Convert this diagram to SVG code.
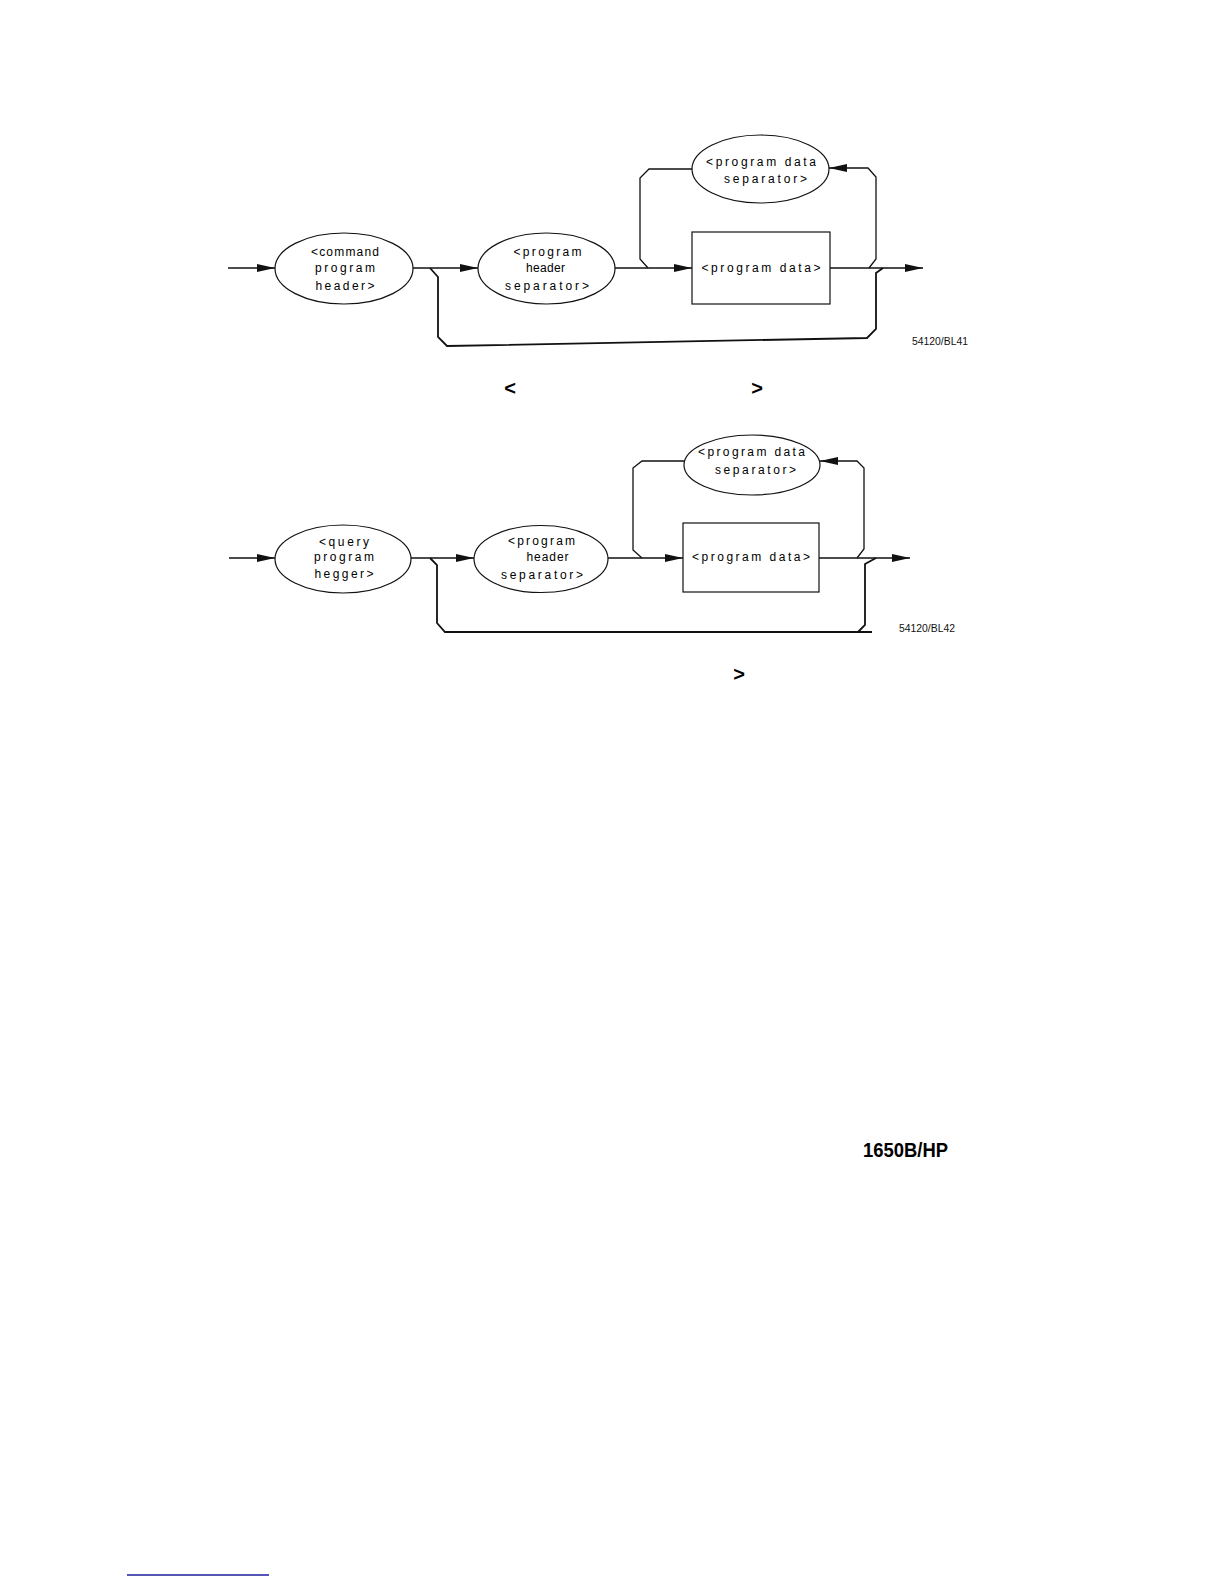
<svg xmlns="http://www.w3.org/2000/svg" width="1224" height="1584" viewBox="0 0 1224 1584">
<style>
.bg{fill:#fff}
.node{fill:#fff;stroke:#111;stroke-width:1.2}
.lbl{font-family:"Liberation Sans","DejaVu Sans",sans-serif;font-size:12px;fill:#000;text-anchor:middle}
.fig{font-family:"Liberation Sans","DejaVu Sans",sans-serif;font-size:10.5px;fill:#111}
.conn{fill:none;stroke:#111;stroke-width:1.3}
.byp{fill:none;stroke:#111;stroke-width:1.8}
.bold{font-family:"Liberation Sans",Arial,sans-serif;font-weight:bold;fill:#000}
</style>
<defs>
<marker id="arr" markerUnits="userSpaceOnUse" markerWidth="18" markerHeight="8" refX="18" refY="4" orient="auto">
<path d="M0,0 L18,4 L0,8 z" fill="#111"/>
</marker>
</defs>
<rect class="bg" x="0" y="0" width="1224" height="1584"/>

<!-- Diagram 1 -->
<g id="connectors1">
<path class="conn" d="M228,268 L275,268" marker-end="url(#arr)"/>
<path class="conn" d="M413,268 L478,268" marker-end="url(#arr)"/>
<path class="conn" d="M615,268 L692,268" marker-end="url(#arr)"/>
<path class="conn" d="M830,268 L923,268" marker-end="url(#arr)"/>
<path class="conn" d="M648,268 L640,259 L640,178 L649,169 L692,169"/>
<path class="conn" d="M869,268 L876,259 L876,177 L868,168 L829,168" marker-end="url(#arr)"/>
<path class="byp" d="M430,268 L438,277 L438,337 L447,346 L867,338 L876,329 L876,273 L883,268"/>
</g>
<g id="cmd-header">
<ellipse class="node" cx="344" cy="268.5" rx="69" ry="35.5"/>
<text class="lbl" x="345" y="256" textLength="68" lengthAdjust="spacing">&lt;command</text>
<text class="lbl" x="345" y="272" textLength="60" lengthAdjust="spacing">program</text>
<text class="lbl" x="345" y="290" textLength="59" lengthAdjust="spacing">header&gt;</text>
</g>
<g id="hdr-sep-1">
<ellipse class="node" cx="546.5" cy="268.5" rx="68.5" ry="35.5"/>
<text class="lbl" x="547.5" y="256" textLength="68" lengthAdjust="spacing">&lt;program</text>
<text class="lbl" x="545.5" y="272" textLength="39" lengthAdjust="spacing">header</text>
<text class="lbl" x="547" y="290" textLength="84" lengthAdjust="spacing">separator&gt;</text>
</g>
<g id="data-sep-1">
<ellipse class="node" cx="760.5" cy="169" rx="68.5" ry="34"/>
<text class="lbl" x="761" y="166" textLength="110" lengthAdjust="spacing">&lt;program data</text>
<text class="lbl" x="765.5" y="183" textLength="83" lengthAdjust="spacing">separator&gt;</text>
</g>
<g id="data-1">
<rect class="node" x="692" y="232" width="138" height="72"/>
<text class="lbl" x="761" y="272" textLength="119" lengthAdjust="spacing">&lt;program data&gt;</text>
</g>
<text class="fig" x="912" y="345" textLength="56" lengthAdjust="spacingAndGlyphs">54120/BL41</text>
<text class="bold" x="510" y="395" font-size="20" text-anchor="middle">&lt;</text>
<text class="bold" x="757" y="395" font-size="20" text-anchor="middle">&gt;</text>

<!-- Diagram 2 -->
<g id="connectors2">
<path class="conn" d="M229,558 L275,558" marker-end="url(#arr)"/>
<path class="conn" d="M411,558 L474,558" marker-end="url(#arr)"/>
<path class="conn" d="M608,558 L683,558" marker-end="url(#arr)"/>
<path class="conn" d="M819,558 L910,558" marker-end="url(#arr)"/>
<path class="conn" d="M642,558 L633,550 L633,468 L642,461 L684,461"/>
<path class="conn" d="M857,558 L864,549 L864,468 L857,461 L820,461" marker-end="url(#arr)"/>
<path class="byp" d="M430,558 L437,565 L437,623 L445,632 L872,632"/>
<path class="byp" d="M858,632 L865,625 L865,564 L876,558"/>
</g>
<g id="query-header">
<ellipse class="node" cx="343" cy="559" rx="68" ry="34"/>
<text class="lbl" x="344" y="546" textLength="50" lengthAdjust="spacing">&lt;query</text>
<text class="lbl" x="344" y="561" textLength="60" lengthAdjust="spacing">program</text>
<text class="lbl" x="344" y="578" textLength="59" lengthAdjust="spacing">hegger&gt;</text>
</g>
<g id="hdr-sep-2">
<ellipse class="node" cx="541" cy="559" rx="67" ry="33.5"/>
<text class="lbl" x="541.5" y="545" textLength="67" lengthAdjust="spacing">&lt;program</text>
<text class="lbl" x="547.5" y="561" textLength="42" lengthAdjust="spacing">header</text>
<text class="lbl" x="542" y="579" font-size="13" textLength="82" lengthAdjust="spacing">separator&gt;</text>
</g>
<g id="data-sep-2">
<ellipse class="node" cx="752" cy="465" rx="68" ry="30"/>
<text class="lbl" x="751.5" y="456" textLength="107" lengthAdjust="spacing">&lt;program data</text>
<text class="lbl" x="755.5" y="474" textLength="81" lengthAdjust="spacing">separator&gt;</text>
</g>
<g id="data-2">
<rect class="node" x="683" y="523" width="136" height="69"/>
<text class="lbl" x="751" y="561" textLength="118" lengthAdjust="spacing">&lt;program data&gt;</text>
</g>
<text class="fig" x="899" y="632" font-size="9.5" textLength="56" lengthAdjust="spacingAndGlyphs">54120/BL42</text>
<text class="bold" x="739" y="681" font-size="20" text-anchor="middle">&gt;</text>

<text class="bold" x="863" y="1157" font-size="19.5" textLength="85" lengthAdjust="spacingAndGlyphs">1650B/HP</text>
<path d="M127,1575 L269,1575" stroke="#1c1c9c" stroke-width="1.5" fill="none"/>
</svg>
